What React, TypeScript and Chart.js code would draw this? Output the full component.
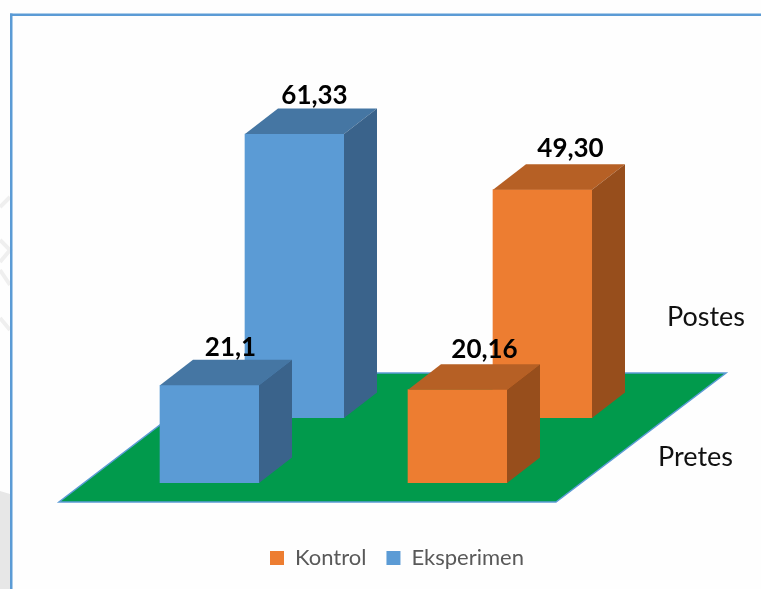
import React, { useEffect, useRef } from "react";
import { Chart, registerables } from "chart.js";

Chart.register(...registerables);

// Groups along the width of the floor
const groups = ["Eksperimen", "Kontrol"];
// Rows along the depth of the floor, front row first
const rows = ["Pretes", "Postes"];
const pretesValues = [21.1, 20.16];
const postesValues = [61.33, 49.3];
const pretesLabels = ["21,1", "20,16"];
const postesLabels = ["61,33", "49,30"];
const legendOrder = ["Kontrol", "Eksperimen"];

const FONT = "Lato";

const faceColors: Record<string, { front: string; top: string; side: string }> = {
  Eksperimen: { front: "#5B9BD5", top: "#4576A3", side: "#3A638B" },
  Kontrol: { front: "#ED7D31", top: "#B66025", side: "#974E1C" },
};

// Pseudo-3D geometry, in pixels
const DEPTH_X = 33;
const DEPTH_Y = -25.5;
const FRONT_BASE = 483;
const BACK_BASE = 418;
const rowShiftX = [-63.5, 21.5];
const rowBase = [FRONT_BASE, BACK_BASE];
const labelShift = [
  [
    [21, -4],
    [27, -6],
  ],
  [
    [20, -4],
    [28, -7],
  ],
];

const scene = {
  id: "scene",
  beforeDraw(chart: any) {
    const { ctx, width, height } = chart;
    ctx.save();
    ctx.fillStyle = "#fefefe";
    ctx.fillRect(0, 0, width, height);

    // Faint page marks outside the frame
    ctx.fillStyle = "#e7e7e7";
    ctx.beginPath();
    ctx.moveTo(0, 491);
    ctx.lineTo(10, 494);
    ctx.lineTo(10, height);
    ctx.lineTo(0, height);
    ctx.fill();
    ctx.strokeStyle = "#efefef";
    ctx.lineWidth = 4;
    ctx.beginPath();
    ctx.moveTo(10, 197);
    ctx.lineTo(0, 207);
    ctx.moveTo(0, 240);
    ctx.lineTo(10, 250);
    ctx.lineTo(0, 262);
    ctx.moveTo(0, 270);
    ctx.lineTo(10, 285);
    ctx.moveTo(0, 318);
    ctx.lineTo(10, 330);
    ctx.stroke();

    // Frame, open on the right and at the bottom
    ctx.fillStyle = "#5B9BD5";
    ctx.fillRect(10, 13.5, width - 10, 2.5);
    ctx.fillRect(10, 13.5, 2.5, height - 13.5);

    // Green floor
    ctx.beginPath();
    ctx.moveTo(59, FRONT_BASE + 19);
    ctx.lineTo(556, FRONT_BASE + 19);
    ctx.lineTo(726, BACK_BASE - 45);
    ctx.lineTo(228, BACK_BASE - 45);
    ctx.closePath();
    ctx.fillStyle = "#019A4C";
    ctx.fill();
    ctx.strokeStyle = "#5B9BD5";
    ctx.lineWidth = 1.5;
    ctx.stroke();
    ctx.restore();
  },
  beforeDatasetDraw(chart: any, args: any) {
    const { ctx, chartArea } = chart;
    const i = args.index;
    ctx.save();
    ctx.translate(rowShiftX[i], rowBase[i] - chartArea.bottom);
  },
  afterDatasetDraw(chart: any, args: any) {
    const { ctx } = chart;
    const meta = chart.getDatasetMeta(args.index);
    meta.data.forEach((bar: any, g: number) => {
      const { x, y, base, width } = bar.getProps(["x", "y", "base", "width"], true);
      const colors = faceColors[groups[g]];
      const l = x - width / 2;
      const r = x + width / 2;
      // Top face
      ctx.fillStyle = colors.top;
      ctx.beginPath();
      ctx.moveTo(l, y);
      ctx.lineTo(l + DEPTH_X, y + DEPTH_Y);
      ctx.lineTo(r + DEPTH_X, y + DEPTH_Y);
      ctx.lineTo(r, y);
      ctx.closePath();
      ctx.fill();
      // Right-hand face
      ctx.fillStyle = colors.side;
      ctx.beginPath();
      ctx.moveTo(r, y);
      ctx.lineTo(r + DEPTH_X, y + DEPTH_Y);
      ctx.lineTo(r + DEPTH_X, base + DEPTH_Y);
      ctx.lineTo(r, base);
      ctx.closePath();
      ctx.fill();
    });
    ctx.restore();
  },
  afterDatasetsDraw(chart: any) {
    const { ctx, chartArea } = chart;
    ctx.save();
    ctx.textAlign = "center";
    ctx.textBaseline = "alphabetic";
    ctx.fillStyle = "#000000";
    ctx.font = `bold 26px ${FONT}`;
    [pretesLabels, postesLabels].forEach((texts, i) => {
      const meta = chart.getDatasetMeta(i);
      texts.forEach((text, g) => {
        const bar = meta.data[g];
        const px = bar.x + rowShiftX[i] + labelShift[i][g][0];
        const py = bar.y + rowBase[i] - chartArea.bottom + DEPTH_Y + labelShift[i][g][1];
        ctx.fillText(text, px, py);
      });
    });
    // Row names to the right of the floor
    ctx.font = `27px ${FONT}`;
    ctx.fillStyle = "#111111";
    ctx.fillText(rows[1], 706, 326);
    ctx.fillText(rows[0], 695.5, 466);
    ctx.restore();
  },
};

export default function App() {
  const ref = useRef<HTMLCanvasElement>(null);

  useEffect(() => {
    const chart = new Chart(ref.current!, {
      type: "bar",
      data: {
        labels: groups,
        datasets: [
          {
            label: rows[0],
            data: pretesValues,
            backgroundColor: groups.map((g) => faceColors[g].front),
          },
          {
            label: rows[1],
            data: postesValues,
            backgroundColor: groups.map((g) => faceColors[g].front),
          },
        ],
      },
      options: {
        responsive: false,
        animation: false,
        layout: { padding: { left: 149, right: 116, top: 0, bottom: 10 } },
        datasets: { bar: { barThickness: 99, grouped: false } },
        scales: {
          x: { display: false },
          y: { display: false, min: 0, max: 113.8 },
        },
        plugins: {
          tooltip: { enabled: false },
          legend: {
            position: "bottom",
            labels: {
              boxWidth: 14,
              boxHeight: 14,
              padding: 20,
              color: "#595959",
              font: { family: FONT, size: 22 },
              generateLabels: () =>
                legendOrder.map((name) => ({
                  text: name,
                  fillStyle: faceColors[name].front,
                  strokeStyle: faceColors[name].front,
                  lineWidth: 0,
                  fontColor: "#595959",
                })),
            },
          },
        },
      },
      plugins: [scene],
    } as any);
    return () => chart.destroy();
  }, []);

  return (
    <canvas
      ref={ref}
      width={761}
      height={589}
      style={{ position: "absolute", left: 0, top: 0, display: "block" }}
    />
  );
}
